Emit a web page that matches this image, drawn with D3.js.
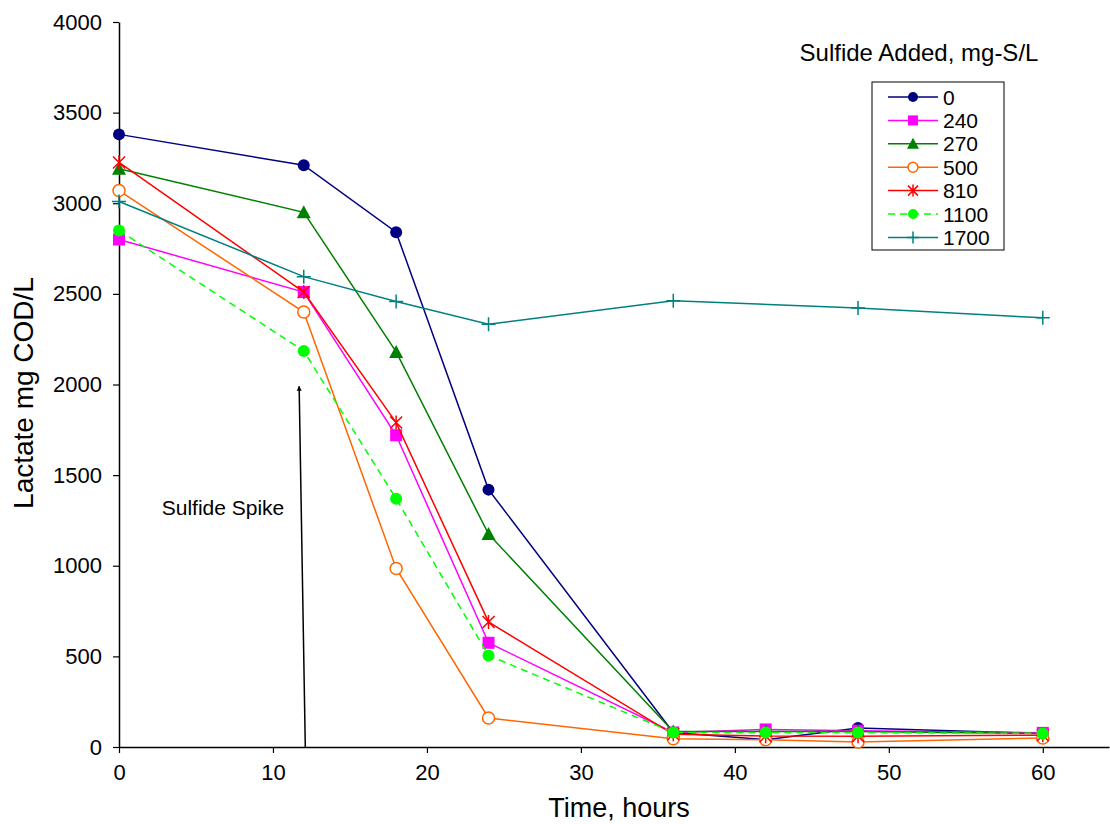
<!DOCTYPE html>
<html>
<head>
<meta charset="utf-8">
<script src="https://cdn.jsdelivr.net/npm/d3@7"></script>
<style>
  body { margin: 0; background: #fff; }
  text { font-family: "Liberation Sans", Arial, sans-serif; }
</style>
</head>
<body>
<div id="chart"></div>
<script>
// hours sampled
var hours = [0, 12, 18, 24, 36, 42, 48, 60];
var hours1700 = [0, 12, 18, 24, 36, 48, 60];

// lactate mg COD/L per sulfide dose
var s0    = [3380, 3210, 2840, 1420, 80, 40, 105, 75];
var s240  = [2800, 2510, 1720, 575, 80, 97, 90, 78];
var s270  = [3190, 2950, 2180, 1175, 85, 85, 85, 75];
var s500  = [3070, 2400, 985, 160, 45, 40, 28, 50];
var s810  = [3225, 2510, 1790, 690, 70, 60, 60, 65];
var s1100 = [2850, 2185, 1370, 505, 80, 80, 80, 75];
var s1700 = [3010, 2595, 2458, 2332, 2462, 2422, 2368];

var xTicks = [0, 10, 20, 30, 40, 50, 60];
var yTicks = [0, 500, 1000, 1500, 2000, 2500, 3000, 3500, 4000];

var series = [
  {name: "0",    x: hours,     y: s0,    color: "#000080", sym: "circle"},
  {name: "240",  x: hours,     y: s240,  color: "#FF00FF", sym: "square"},
  {name: "270",  x: hours,     y: s270,  color: "#008000", sym: "triangle"},
  {name: "500",  x: hours,     y: s500,  color: "#FF6600", sym: "ocircle"},
  {name: "810",  x: hours,     y: s810,  color: "#FF0000", sym: "star"},
  {name: "1100", x: hours,     y: s1100, color: "#00FF00", sym: "circle", dash: "7,5"},
  {name: "1700", x: hours1700, y: s1700, color: "#008080", sym: "plus"}
];

var W = 1110, H = 824;
var margin = {top: 22, right: 1, bottom: 77, left: 119};
var width = W - margin.left - margin.right,
    height = H - margin.top - margin.bottom;

var svg = d3.select("#chart").append("svg")
    .attr("width", W).attr("height", H);
var g = svg.append("g")
    .attr("transform", "translate(" + margin.left + "," + margin.top + ")");

var x = d3.scaleLinear().domain([0, 64.3]).range([0, width]);
var y = d3.scaleLinear().domain([0, 4000]).range([height, 0]);

// axes
var xAxis = g.append("g")
    .attr("transform", "translate(0," + height + ")")
    .call(d3.axisBottom(x).tickValues(xTicks).tickFormat(d3.format("d"))
      .tickSize(6).tickSizeOuter(0).tickPadding(11));
var yAxis = g.append("g")
    .call(d3.axisLeft(y).tickValues(yTicks).tickFormat(d3.format("d"))
      .tickSize(6).tickSizeOuter(0).tickPadding(11));
[xAxis, yAxis].forEach(function(a) {
  a.select(".domain").attr("stroke", "#000").attr("stroke-width", 1.5);
  a.selectAll(".tick line").attr("stroke", "#000").attr("stroke-width", 1.2);
  a.selectAll("text").attr("font-size", 22).attr("fill", "#000")
    .style("font-family", "Liberation Sans, Arial, sans-serif");
});

// axis titles
svg.append("text")
    .attr("x", 619).attr("y", 817)
    .attr("text-anchor", "middle").attr("font-size", 27)
    .text("Time, hours");
svg.append("text")
    .attr("transform", "translate(33,393) rotate(-90)")
    .attr("text-anchor", "middle").attr("font-size", 28)
    .text("Lactate mg COD/L");

// sulfide spike arrow
var defs = svg.append("defs");
defs.append("marker")
    .attr("id", "arrow").attr("viewBox", "0 0 10 10")
    .attr("refX", 9).attr("refY", 5)
    .attr("markerWidth", 5).attr("markerHeight", 7)
    .attr("markerUnits", "userSpaceOnUse")
    .attr("orient", "auto")
  .append("path").attr("d", "M0,0 L10,5 L0,10 z").attr("fill", "#000");
g.append("line")
    .attr("x1", x(12.1)).attr("y1", y(0))
    .attr("x2", x(11.7)).attr("y2", y(1990))
    .attr("stroke", "#000").attr("stroke-width", 1.5)
    .attr("marker-end", "url(#arrow)");
svg.append("text")
    .attr("x", 223).attr("y", 515)
    .attr("text-anchor", "middle").attr("font-size", 21)
    .text("Sulfide Spike");

function drawMarker(sel, s, size) {
  var r = size;
  if (s.sym === "circle") {
    sel.append("circle").attr("r", r).attr("fill", s.color);
  } else if (s.sym === "ocircle") {
    sel.append("circle").attr("r", r).attr("fill", "#fff")
      .attr("stroke", s.color).attr("stroke-width", 1.5);
  } else if (s.sym === "square") {
    sel.append("rect").attr("x", -r).attr("y", -r)
      .attr("width", 2 * r).attr("height", 2 * r).attr("fill", s.color);
  } else if (s.sym === "triangle") {
    sel.append("path")
      .attr("d", "M0," + (-r - 1) + " L" + (r + 1) + "," + r + " L" + (-r - 1) + "," + r + " Z")
      .attr("fill", s.color);
  } else if (s.sym === "star") {
    var p = "M" + (-r) + "," + (-r) + " L" + r + "," + r +
            " M" + r + "," + (-r) + " L" + (-r) + "," + r +
            " M0," + (-r - 1) + " L0," + (r + 1);
    sel.append("path").attr("d", p).attr("stroke", s.color)
      .attr("stroke-width", 1.5).attr("fill", "none");
  } else if (s.sym === "plus") {
    var q = "M" + (-r - 1) + ",0 L" + (r + 1) + ",0 M0," + (-r - 1) + " L0," + (r + 1);
    sel.append("path").attr("d", q).attr("stroke", s.color)
      .attr("stroke-width", 1.5).attr("fill", "none");
  }
}

var line = d3.line()
    .x(function(d) { return x(d[0]); })
    .y(function(d) { return y(d[1]); });

series.forEach(function(s) {
  var pts = s.x.map(function(v, i) { return [v, s.y[i]]; });
  g.append("path")
      .datum(pts)
      .attr("d", line)
      .attr("fill", "none")
      .attr("stroke", s.color)
      .attr("stroke-width", 1.5)
      .attr("stroke-dasharray", s.dash || null);
  g.selectAll(null)
      .data(pts)
      .enter()
      .append("g")
      .attr("transform", function(d) { return "translate(" + x(d[0]) + "," + y(d[1]) + ")"; })
      .each(function() { drawMarker(d3.select(this), s, 6); });
});

// legend
svg.append("text")
    .attr("x", 919).attr("y", 61)
    .attr("text-anchor", "middle").attr("font-size", 24)
    .text("Sulfide Added, mg-S/L");
var lg = svg.append("g").attr("transform", "translate(872,82)");
lg.append("rect").attr("width", 132).attr("height", 168)
    .attr("fill", "#fff").attr("stroke", "#000").attr("stroke-width", 1);
series.forEach(function(s, i) {
  var row = lg.append("g").attr("transform", "translate(0," + (15 + i * 23.4) + ")");
  row.append("line").attr("x1", 16).attr("x2", 66)
      .attr("stroke", s.color).attr("stroke-width", 1.5)
      .attr("stroke-dasharray", s.dash || null);
  var m = row.append("g").attr("transform", "translate(41,0)");
  drawMarker(m, s, 5);
  row.append("text").attr("x", 71).attr("y", 7.5)
      .attr("font-size", 21).text(s.name);
});
</script>
</body>
</html>
